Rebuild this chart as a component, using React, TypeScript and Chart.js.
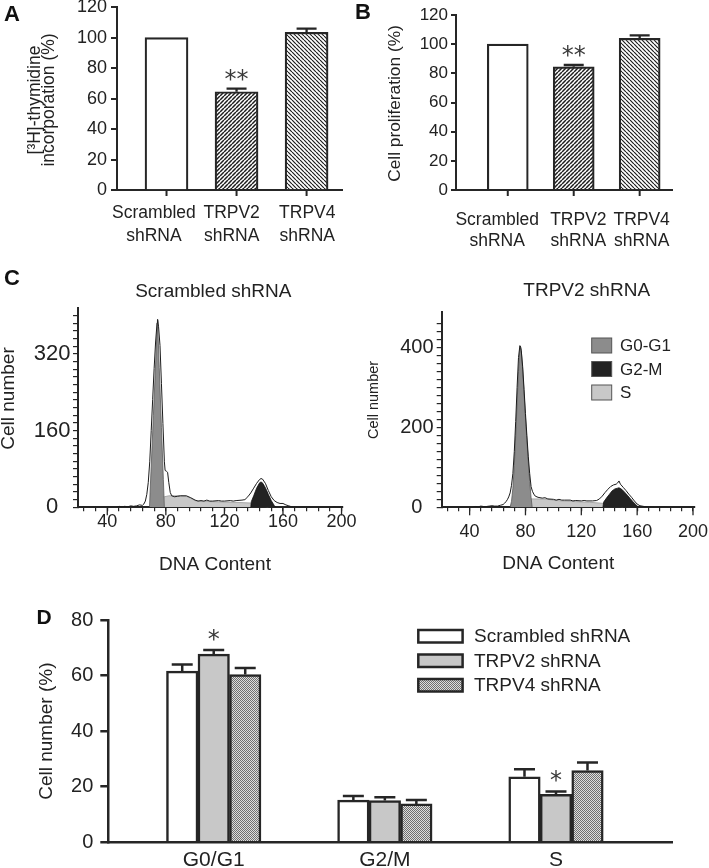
import React, { useEffect, useRef } from 'react';
import { Chart, registerables } from 'chart.js';

Chart.register(...registerables);

const FONT = '"Liberation Sans", Arial, Helvetica, sans-serif';
const INK = '#262626';
const TXT = '#222222';

// ---------- Panels A & B ----------
const abCategories = [['Scrambled', 'shRNA'], ['TRPV2', 'shRNA'], ['TRPV4', 'shRNA']];
const abPositions = [0, 1, 2];
const aValues = [100, 64.5, 103.5];
const aErrors = [0, 2, 2.5];
const aStars = ['', '**', ''];
const bValues = [100, 84.5, 104];
const bErrors = [0, 1.2, 2];
const bStars = ['', '**', ''];

// ---------- Panel C ----------
const cSeries = ['G0-G1', 'G2-M', 'S'];
const cXTicks = [24, 32, 40, 48, 56, 64, 72, 80, 88, 96, 104, 112, 120, 128, 136, 144, 152, 160, 168, 176, 184, 192, 200];
const cXLabels = [40, 80, 120, 160, 200];
const cLeftYTicks = [0, 16, 32, 48, 64, 80, 96, 112, 128, 144, 160, 176, 192, 208, 224, 240, 256, 272, 288, 304, 320, 336, 352, 368, 384, 400];
const cLeftYLabels = [0, 160, 320];
const cRightYTicks = [0, 20, 40, 60, 80, 100, 120, 140, 160, 180, 200, 220, 240, 260, 280, 300, 320, 340, 360, 380, 400, 420, 440, 460];
const cRightYLabels = [0, 200, 400];

const scrTotal = [
  [20, 0], [46, 0], [48, 2], [50, 1], [52, 2], [54, 1], [56, 3], [58, 2], [60, 3], [62, 5], [64, 4], [65, 7], [66, 13],
  [67, 27], [68, 52], [69, 95], [70, 160], [71, 225], [72, 290], [73, 345], [74, 385], [74.4, 392], [75, 378], [76, 338],
  [77, 258], [78, 175], [79, 95], [79.5, 77], [80.5, 75], [81.2, 73], [82, 52], [83, 31], [84, 24], [86, 22], [88, 23],
  [90, 24], [94, 24], [97, 20], [100, 15], [102, 13], [104, 14], [106, 13], [108, 15], [110, 13], [112, 13], [116, 14],
  [118, 13], [120, 13], [124, 14], [126, 13], [128, 14], [132, 15], [134, 16], [136, 22], [138, 30], [140, 40], [142, 50],
  [144, 58], [145, 60], [146, 59], [148, 50], [150, 35], [152, 22], [154, 14], [156, 10], [158, 8], [160, 8], [162, 5],
  [164, 3], [166, 1], [168, 0], [177, 0], [178, 1], [179, 0], [194, 0], [195, 1], [196, 0], [201, 0],
];
const scrG0G1 = [[68.8, 0], [70, 86], [71.5, 192], [73, 299], [74.3, 392], [75.5, 292], [77, 167], [78.3, 58], [79, 0]];
const scrS = [
  [71, 0], [73, 3], [75, 10], [77, 17], [79, 22], [82, 24], [90, 24], [94, 23], [97, 19], [100, 14], [104, 12],
  [110, 12], [120, 11], [130, 10], [138, 9], [142, 6], [146, 3], [150, 0],
];
const scrG2M = [[138, 0], [138.4, 12], [140, 24], [142, 40], [144, 51], [145, 53], [146, 51], [148, 41], [150, 27], [152, 14], [154, 4], [155, 0]];

const trpTotal = [
  [20, 0], [42, 0], [44, 2], [46, 1], [48, 3], [50, 2], [52, 2], [54, 3], [56, 4], [58, 3], [60, 3], [62, 5], [64, 7],
  [65, 10], [66, 14], [67, 19], [68, 26], [69, 36], [70, 55], [71, 85], [72, 140], [73, 215], [74, 300], [75, 375],
  [76, 405], [76.6, 400], [77, 392], [78, 352], [79, 295], [80, 235], [81, 180], [82, 128], [83, 85], [84, 52], [85, 40],
  [86, 33], [87, 28], [89, 25], [92, 23], [94, 24], [96, 21], [100, 20], [102, 18], [104, 20], [106, 18], [108, 18],
  [112, 18], [114, 16], [116, 17], [120, 16], [122, 17], [124, 16], [128, 16], [131, 17], [133, 21], [135, 28], [137, 37],
  [139, 45], [141, 52], [143, 56], [145, 58], [146, 61], [147, 66], [148, 58], [150, 50], [152, 42], [154, 33], [156, 25],
  [158, 16], [160, 8], [162, 4], [165, 2], [168, 1], [172, 0], [180, 1], [182, 0], [201, 0],
];
const trpG0G1 = [
  [69, 0], [70, 15], [71, 48], [72, 105], [73, 180], [74, 262], [75, 340], [76, 398], [76.4, 404], [77, 392], [78, 345],
  [79, 285], [80, 225], [81, 170], [82, 115], [83, 65], [84, 25], [84.8, 0],
];
const trpS = [
  [74, 0], [76, 6], [78, 14], [80, 19], [84, 21], [90, 21], [96, 20], [100, 18], [106, 16], [112, 15], [120, 13.5],
  [126, 12.5], [132, 11], [138, 9], [142, 7], [146, 4], [150, 0],
];
const trpG2M = [
  [135.5, 0], [136, 13], [138, 23], [140, 32], [142, 41], [144, 46], [146, 48], [147, 49], [149, 45], [151, 38],
  [153, 30], [155, 22], [157, 14], [159, 7], [161, 0],
];

// ---------- Panel D ----------
const dGroups = ['G0/G1', 'G2/M', 'S'];
const dPositions = [0, 1, 2];
const dSeries = ['Scrambled shRNA', 'TRPV2 shRNA', 'TRPV4 shRNA'];
const dScrambled = [61.6, 15.2, 23.6];
const dScrambledErr = [2.4, 1.5, 2.7];
const dTRPV2 = [67.7, 15.0, 17.3];
const dTRPV2Err = [1.5, 1.2, 1.0];
const dTRPV2Stars = ['*', '', '*'];
const dTRPV4 = [60.4, 13.8, 25.8];
const dTRPV4Err = [2.3, 1.4, 2.9];
const dYTicks = [0, 20, 40, 60, 80];

// ---------- helpers ----------
const pts = (arr: number[][]) => arr.map(([x, y]) => ({ x, y }));
const xy = (xs: number[], ys: number[]) => xs.map((x, i) => ({ x, y: ys[i] }));
const fixedTicks = (vals: number[]) => (s: any) => {
  s.ticks = vals.map((v) => ({ value: v }));
};

function hatch(dir: string, lw: number) {
  const size = 4;
  const c = document.createElement('canvas');
  c.width = size;
  c.height = size;
  const g = c.getContext('2d')!;
  g.fillStyle = '#ffffff';
  g.fillRect(0, 0, size, size);
  g.strokeStyle = '#1e1e1e';
  g.lineWidth = lw;
  g.beginPath();
  for (const k of [-size, 0, size]) {
    if (dir === '/') {
      g.moveTo(k, size);
      g.lineTo(k + size, 0);
    } else {
      g.moveTo(k, 0);
      g.lineTo(k + size, size);
    }
  }
  g.stroke();
  return g.createPattern(c, 'repeat')!;
}

function checker() {
  const c = document.createElement('canvas');
  c.width = 4;
  c.height = 4;
  const g = c.getContext('2d')!;
  g.fillStyle = '#dedede';
  g.fillRect(0, 0, 4, 4);
  g.fillStyle = '#707070';
  for (let y = 0; y < 4; y++) for (let x = 0; x < 4; x++) if ((x + y) % 2 === 0) g.fillRect(x, y, 1, 1);
  return g.createPattern(c, 'repeat')!;
}

const errorBarsPlugin = {
  id: 'errorBars',
  afterDatasetsDraw(chart: any, _a: any, opts: any) {
    const ctx = chart.ctx;
    const ys = chart.scales.y;
    chart.data.datasets.forEach((ds: any, i: number) => {
      if (!ds.errors) return;
      const meta = chart.getDatasetMeta(i);
      meta.data.forEach((el: any, j: number) => {
        const v = ds.data[j].y;
        const e = ds.errors[j] || 0;
        const top = ys.getPixelForValue(v + e);
        ctx.save();
        if (e > 0) {
          ctx.strokeStyle = INK;
          ctx.lineWidth = opts.lineWidth;
          ctx.beginPath();
          ctx.moveTo(el.x, el.y);
          ctx.lineTo(el.x, top);
          ctx.moveTo(el.x - opts.cap, top);
          ctx.lineTo(el.x + opts.cap, top);
          ctx.stroke();
        }
        const s = ds.stars && ds.stars[j];
        if (s) {
          ctx.font = `${opts.starSize}px "DejaVu Sans"`;
          ctx.fillStyle = '#3a3a3a';
          ctx.textAlign = 'center';
          ctx.textBaseline = 'alphabetic';
          const m = ctx.measureText(s);
          const cy = top - opts.starGap;
          ctx.fillText(s, el.x, cy + (m.actualBoundingBoxAscent - m.actualBoundingBoxDescent) / 2);
        }
        ctx.restore();
      });
    });
  },
};

const textsPlugin = {
  id: 'texts',
  afterDraw(chart: any, _a: any, opts: any) {
    const items = opts.items || [];
    const ctx = chart.ctx;
    items.forEach((it: any) => {
      ctx.save();
      ctx.font = `${it.size}px ${FONT}`;
      ctx.fillStyle = TXT;
      ctx.textAlign = 'center';
      ctx.textBaseline = 'middle';
      ctx.translate(it.x, it.y);
      if (it.rotate) ctx.rotate(it.rotate);
      ctx.fillText(it.text, 0, 0);
      ctx.restore();
    });
  },
};

const boxLegendPlugin = {
  id: 'boxLegend',
  afterDraw(chart: any, _a: any, opts: any) {
    if (!opts.indices) return;
    const ctx = chart.ctx;
    opts.indices.forEach((di: number, k: number) => {
      const ds = chart.data.datasets[di];
      const y = opts.y + k * opts.step;
      ctx.save();
      ctx.fillStyle = ds.backgroundColor;
      ctx.fillRect(opts.x, y, opts.w, opts.h);
      ctx.strokeStyle = opts.stroke;
      ctx.lineWidth = opts.lineWidth;
      ctx.strokeRect(opts.x, y, opts.w, opts.h);
      ctx.font = `${opts.size}px ${FONT}`;
      ctx.fillStyle = TXT;
      ctx.textAlign = 'left';
      ctx.textBaseline = 'middle';
      ctx.fillText(ds.label, opts.x + opts.w + opts.gap, y + opts.h / 2 + 1);
      ctx.restore();
    });
  },
};

// tick marks on the x axis at given data values
const xMarksPlugin = {
  id: 'xMarks',
  afterDraw(chart: any, _a: any, opts: any) {
    if (!opts.values) return;
    const xs = chart.scales.x;
    const ctx = chart.ctx;
    const y0 = chart.chartArea.bottom;
    ctx.save();
    ctx.strokeStyle = INK;
    ctx.lineWidth = opts.lineWidth;
    opts.values.forEach((v: number) => {
      const px = xs.getPixelForValue(v);
      ctx.beginPath();
      ctx.moveTo(px, y0);
      ctx.lineTo(px, y0 + opts.length);
      ctx.stroke();
    });
    ctx.restore();
  },
};

const base = { animation: false, responsive: false, devicePixelRatio: 1, events: [] as string[] };

function makeBarPanel(p: any) {
  return {
    type: 'bar',
    data: {
      datasets: [
        {
          label: p.label,
          data: xy(abPositions, p.values),
          backgroundColor: ['#ffffff', hatch('/', 1.5), hatch('\\', 1.2)],
          borderColor: INK,
          borderWidth: 2.2,
          barThickness: p.barThickness,
          errors: p.errors,
          stars: p.stars,
        },
      ],
    },
    options: {
      ...base,
      layout: { padding: { top: p.top, right: p.right, bottom: 0, left: 0 } },
      plugins: {
        legend: { display: false },
        tooltip: { enabled: false },
        errorBars: { cap: 10, lineWidth: 2.3, starSize: 24, starGap: 14 },
        xMarks: { values: abPositions, length: 6, lineWidth: 2 },
        texts: { items: p.texts },
      },
      scales: {
        x: {
          type: 'linear',
          min: p.xMin,
          max: p.xMax,
          offset: false,
          afterBuildTicks: fixedTicks(p.labelAt),
          ticks: {
            callback: (_v: number, i: number) => abCategories[i] ?? '',
            font: { size: 17.5, lineHeight: p.labelLine },
            color: TXT,
            padding: p.labelPad,
            maxRotation: 0,
            autoSkip: false,
          },
          grid: { offset: false, drawOnChartArea: false, drawTicks: true, tickLength: 6, color: 'rgba(0,0,0,0)', lineWidth: 0 },
          border: { color: INK, width: 2 },
          afterFit: (s: any) => {
            s.height = 90;
            s.paddingLeft = 0;
            s.paddingRight = 0;
          },
        },
        y: {
          min: 0,
          max: 120,
          ticks: { stepSize: 20, font: { size: p.tickSize }, color: TXT, padding: p.tickPad },
          grid: { drawOnChartArea: false, drawTicks: true, tickLength: p.tickLen, color: INK, lineWidth: 2 },
          border: { color: INK, width: 2 },
          afterFit: (s: any) => {
            s.width = p.yWidth;
            s.paddingTop = 0;
            s.paddingBottom = 0;
          },
        },
      },
    },
    plugins: [errorBarsPlugin, xMarksPlugin, textsPlugin],
  };
}

const makeA = () =>
  makeBarPanel({
    label: '[3H]-thymidine incorporation',
    values: aValues,
    errors: aErrors,
    stars: aStars,
    barThickness: 43,
    top: 7.2,
    right: 7,
    xMin: -0.707,
    xMax: 2.52,
    labelAt: [-0.18, 0.93, 2.01],
    labelLine: 1.35,
    labelPad: 5,
    tickSize: 18,
    tickPad: 4,
    tickLen: 6,
    yWidth: 117,
    texts: [
      { text: '[³H]-thymidine', x: 35.5, y: 100, size: 17.5, rotate: -Math.PI / 2 },
      { text: 'incorporation (%)', x: 49.5, y: 100, size: 17.5, rotate: -Math.PI / 2 },
    ],
  });

const makeB = () =>
  makeBarPanel({
    label: 'Cell proliferation',
    values: bValues,
    errors: bErrors,
    stars: bStars,
    barThickness: 41,
    top: 15,
    right: 35.7,
    xMin: -0.785,
    xMax: 2.51,
    labelAt: [-0.16, 1.07, 2.03],
    labelLine: 1.2,
    labelPad: 14,
    tickSize: 17,
    tickPad: 3,
    tickLen: 5,
    yWidth: 106,
    texts: [{ text: 'Cell proliferation (%)', x: 45, y: 103.5, size: 17.3, rotate: -Math.PI / 2 }],
  });

function makeHist(p: any) {
  return {
    type: 'line',
    data: {
      datasets: [
        { label: 'Total', data: pts(p.total), borderColor: '#1c1c1c', borderWidth: 1, fill: false, pointRadius: 0 },
        { label: cSeries[0], data: pts(p.g0g1), borderColor: '#5a5a5a', borderWidth: 0.8, backgroundColor: '#8c8c8c', fill: 'origin', pointRadius: 0 },
        { label: cSeries[1], data: pts(p.g2m), borderColor: '#111111', borderWidth: 0.8, backgroundColor: '#222222', fill: 'origin', pointRadius: 0 },
        { label: cSeries[2], data: pts(p.s), borderColor: '#9a9a9a', borderWidth: 0.8, backgroundColor: '#c8c8c8', fill: 'origin', pointRadius: 0 },
      ],
    },
    options: {
      ...base,
      layout: { padding: { top: p.top, right: p.right, bottom: 0, left: 0 } },
      plugins: {
        legend: { display: false },
        tooltip: { enabled: false },
        texts: { items: p.texts },
        xMarks: { values: cXLabels, length: 8, lineWidth: 1.3 },
        boxLegend: p.legend,
      },
      scales: {
        x: {
          type: 'linear',
          min: 20,
          max: 201,
          afterBuildTicks: fixedTicks(cXTicks),
          ticks: {
            callback: (v: number) => (cXLabels.includes(v) ? String(v) : ''),
            font: { size: 18 },
            color: TXT,
            padding: p.xPad,
            maxRotation: 0,
            autoSkip: false,
          },
          grid: { drawOnChartArea: false, drawTicks: true, tickLength: 4, color: INK, lineWidth: 1.2 },
          border: { color: INK, width: 2 },
          afterFit: (s: any) => {
            s.height = 72.7;
            s.paddingLeft = 0;
            s.paddingRight = 0;
          },
        },
        y: {
          min: 0,
          max: p.yMax,
          afterBuildTicks: fixedTicks(p.yTicks),
          ticks: {
            callback: (v: number) => (p.yLabels.includes(v) ? String(v) : ''),
            font: { size: p.yFont },
            color: TXT,
            padding: p.yPad,
            crossAlign: 'center',
            autoSkip: false,
          },
          grid: { drawOnChartArea: false, drawTicks: true, tickLength: 5, color: INK, lineWidth: 1.2 },
          border: { color: INK, width: 2 },
          afterFit: (s: any) => {
            s.width = p.yWidth;
            s.paddingTop = 0;
            s.paddingBottom = 0;
          },
        },
      },
    },
    plugins: [textsPlugin, xMarksPlugin, boxLegendPlugin],
  };
}

const makeCLeft = () =>
  makeHist({
    total: scrTotal,
    g0g1: scrG0G1,
    g2m: scrG2M,
    s: scrS,
    top: 28,
    right: 27,
    yMax: 416,
    yTicks: cLeftYTicks,
    yLabels: cLeftYLabels,
    yFont: 22,
    yPad: 2.5,
    yWidth: 78,
    xPad: 0,
    legend: {},
    texts: [
      { text: 'Scrambled shRNA', x: 213.3, y: 11.7, size: 19 },
      { text: 'DNA Content', x: 215, y: 285, size: 19 },
      { text: 'Cell number', x: 8.5, y: 118.5, size: 19, rotate: -Math.PI / 2 },
    ],
  });

const makeCRight = () =>
  makeHist({
    total: trpTotal,
    g0g1: trpG0G1,
    g2m: trpG2M,
    s: trpS,
    top: 31.7,
    right: 14.6,
    yMax: 490,
    yTicks: cRightYTicks,
    yLabels: cRightYLabels,
    yFont: 20,
    yPad: 3.2,
    yWidth: 91.7,
    xPad: 10,
    legend: { indices: [1, 2, 3], x: 241.7, y: 58, step: 23.5, w: 20, h: 15, gap: 8.3, size: 17, stroke: '#555555', lineWidth: 1 },
    texts: [
      { text: 'TRPV2 shRNA', x: 236.7, y: 10.7, size: 19 },
      { text: 'DNA Content', x: 208.3, y: 283.3, size: 19 },
      { text: 'Cell number', x: 24, y: 120, size: 14.5, rotate: -Math.PI / 2 },
    ],
  });

function makeD() {
  const common = { borderColor: INK, borderWidth: 2.5, barThickness: 31.5 };
  return {
    type: 'bar',
    data: {
      datasets: [
        { ...common, label: dSeries[0], data: xy(dPositions, dScrambled), backgroundColor: '#ffffff', errors: dScrambledErr },
        { ...common, label: dSeries[1], data: xy(dPositions, dTRPV2), backgroundColor: '#c8c8c8', errors: dTRPV2Err, stars: dTRPV2Stars },
        { ...common, label: dSeries[2], data: xy(dPositions, dTRPV4), backgroundColor: checker(), errors: dTRPV4Err },
      ],
    },
    options: {
      ...base,
      layout: { padding: { top: 40, right: 36.3, bottom: 0, left: 0 } },
      plugins: {
        legend: { display: false },
        tooltip: { enabled: false },
        errorBars: { cap: 10.5, lineWidth: 2.5, starSize: 24, starGap: 15.5 },
        boxLegend: { indices: [0, 1, 2], x: 418.3, y: 50, step: 24.5, w: 44.3, h: 12.5, gap: 11.4, size: 19, stroke: INK, lineWidth: 2.5 },
      },
      scales: {
        x: {
          type: 'linear',
          min: -0.616,
          max: 2.682,
          offset: false,
          afterBuildTicks: fixedTicks(dPositions),
          ticks: {
            callback: (v: number) => dGroups[v] ?? '',
            font: { size: 21 },
            color: TXT,
            padding: 5,
            maxRotation: 0,
            autoSkip: false,
          },
          grid: { display: false, drawTicks: false, offset: false },
          border: { display: true, color: INK, width: 2.5 },
          afterFit: (s: any) => {
            s.height = 25.7;
            s.paddingLeft = 0;
            s.paddingRight = 0;
          },
        },
        y: {
          min: 0,
          max: 80,
          afterBuildTicks: fixedTicks(dYTicks),
          ticks: { font: { size: 20 }, color: TXT, padding: 7 },
          grid: { drawOnChartArea: false, drawTicks: true, tickLength: 8, color: INK, lineWidth: 2.5 },
          border: { color: INK, width: 2.5 },
          title: { display: true, text: 'Cell number (%)', font: { size: 19 }, color: TXT, padding: { top: 35.3, bottom: 0 } },
          afterFit: (s: any) => {
            s.width = 108.3;
            s.paddingTop = 0;
            s.paddingBottom = 0;
          },
        },
      },
    },
    plugins: [errorBarsPlugin, boxLegendPlugin],
  };
}

function ChartBox({ left, top, width, height, make }: any) {
  const ref = useRef<HTMLCanvasElement>(null);
  useEffect(() => {
    Chart.defaults.font.family = FONT;
    Chart.defaults.color = TXT;
    const chart = new Chart(ref.current as HTMLCanvasElement, make());
    return () => chart.destroy();
  }, []);
  return (
    <canvas
      ref={ref}
      width={width}
      height={height}
      style={{ position: 'absolute', left, top, width, height }}
    />
  );
}

function Letter({ text, left, top, size }: any) {
  return (
    <div
      style={{
        position: 'absolute',
        left,
        top,
        fontFamily: FONT,
        fontWeight: 'bold',
        fontSize: size,
        lineHeight: 1,
        color: '#111',
      }}
    >
      {text}
    </div>
  );
}

export default function App() {
  return (
    <div style={{ position: 'absolute', left: 0, top: 0, width: 709, height: 868, overflow: 'hidden', background: '#ffffff' }}>
      <ChartBox left={0} top={0} width={350} height={280} make={makeA} />
      <ChartBox left={350} top={0} width={359} height={280} make={makeB} />
      <ChartBox left={0} top={280} width={370} height={300} make={makeCLeft} />
      <ChartBox left={350} top={280} width={359} height={300} make={makeCRight} />
      <ChartBox left={0} top={580} width={709} height={288} make={makeD} />
      <Letter text="A" left={4} top={2.7} size={22} />
      <Letter text="B" left={355} top={0.9} size={22} />
      <Letter text="C" left={4} top={267} size={22} />
      <Letter text="D" left={36.5} top={605.7} size={21} />
    </div>
  );
}
